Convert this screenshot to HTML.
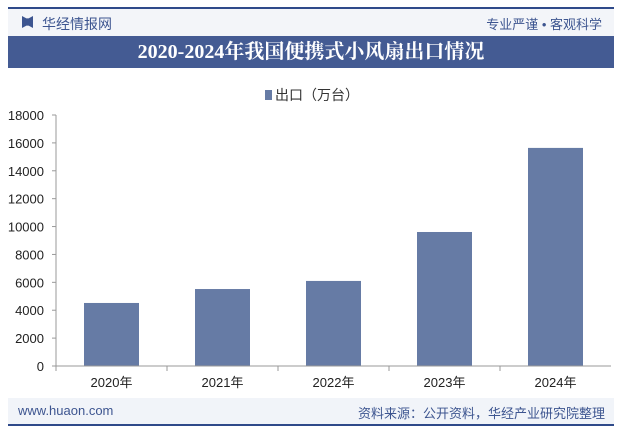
<!DOCTYPE html>
<html><head><meta charset="utf-8"><style>
body{margin:0;width:622px;height:434px;background:#fff;font-family:"Liberation Sans","Noto Sans CJK SC",sans-serif;overflow:hidden;position:relative}
.abs{position:absolute}
</style></head><body>
<div class="abs" style="left:8px;top:7px;width:606px;height:2px;background:#2f4a8a"></div>
<div class="abs" style="left:8px;top:9px;width:606px;height:27px;background:#f3f5f9"></div>
<div class="abs" style="left:22px;top:16px;width:11px;height:12px;background:#3d5590;clip-path:polygon(0 0,40% 20%,60% 20%,100% 0,100% 100%,60% 80%,40% 80%,0 100%)"></div>
<div class="abs" style="left:42px;top:14px;font-size:14px;color:#3d5590">华经情报网</div>
<div class="abs" style="right:20px;top:14px;font-size:13px;color:#3d5590">专业严谨 • 客观科学</div>
<div class="abs" style="left:8px;top:36px;width:606px;height:32px;background:#445b93;color:#fff;font-family:'Liberation Serif','Noto Serif CJK SC',serif;font-weight:bold;font-size:20px;line-height:32px;text-align:center">2020-2024年我国便携式小风扇出口情况</div>
<div class="abs" style="left:265px;top:85px;font-size:14px;color:#333"><span style="display:inline-block;width:7px;height:10px;background:#667ba5;margin-right:3px"></span>出口（万台）</div>
<svg class="abs" style="left:0;top:0" width="622" height="434">
<g id="g"></g>
</svg>
<div class="abs" style="left:8px;top:398px;width:606px;height:26px;background:#f1f4f9"></div>
<div class="abs" style="left:8px;top:424px;width:606px;height:2px;background:#2f4a8a"></div>
<div class="abs" style="left:18px;top:403px;font-size:13px;color:#3d5590">www.huaon.com</div>
<div class="abs" style="right:17px;top:403px;font-size:13px;color:#3d5590">资料来源：公开资料，华经产业研究院整理</div>
<script>
const categories=["2020年","2021年","2022年","2023年","2024年"];
const exportValues=[4520,5520,6100,9610,15640];
const yTicks=[0,2000,4000,6000,8000,10000,12000,14000,16000,18000];
const g=document.getElementById('g');const NS='http://www.w3.org/2000/svg';
const x0=56,x1=611,yb=366,yt=115,ymax=18000;
const cw=(x1-x0)/categories.length;
const y=v=>yb-(v/ymax)*(yb-yt);
function mk(t,a){const e=document.createElementNS(NS,t);for(const k in a)e.setAttribute(k,a[k]);g.appendChild(e);return e;}
yTicks.forEach(v=>{const t=mk('text',{x:44,y:y(v)+5,'text-anchor':'end','font-size':13,fill:'#222'});t.textContent=v;


const l=mk('line',{x1:x0-4,x2:x0,y1:y(v),y2:y(v),stroke:'#999'});

});
const ya=mk('line',{x1:x0,x2:x0,y1:yt,y2:yb,stroke:'#999'});


categories.forEach((c,i)=>{const cx=x0+cw*(i+0.5);
const r=mk('rect',{x:cx-27.5,y:y(exportValues[i]),width:55,height:yb-y(exportValues[i]),fill:'#667ba5'});


const t=mk('text',{x:cx,y:yb+21,'text-anchor':'middle','font-size':13,fill:'#222'});t.textContent=c;


const tk=mk('line',{x1:x0+cw*i,x2:x0+cw*i,y1:yb,y2:yb+5,stroke:'#999'});

});
const xa=mk('line',{x1:x0,x2:x1,y1:yb,y2:yb,stroke:'#999'});


</script>
</body></html>
